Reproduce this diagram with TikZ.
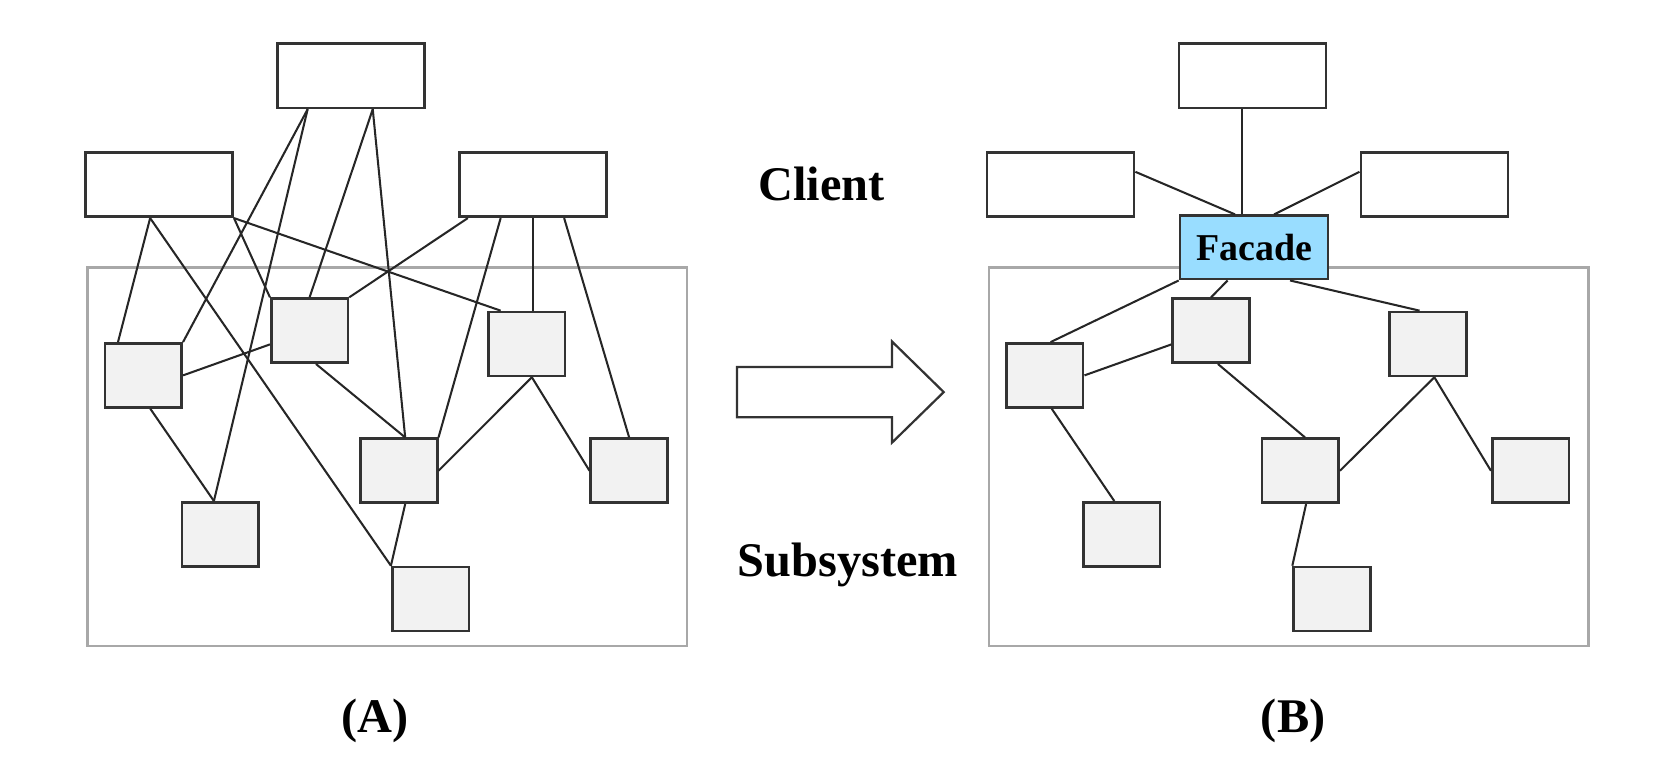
\documentclass[tikz,border=0pt]{standalone}
\usepackage{fontspec}
\setmainfont{Liberation Serif}
\definecolor{facadeblue}{RGB}{153,221,255}
\definecolor{partgray}{RGB}{242,242,242}
\definecolor{framegray}{RGB}{168,168,168}
\begin{document}
\begin{tikzpicture}[x=0.01cm,y=-0.01cm,
    client/.style={draw=black!80,line width=0.7pt,fill=white,minimum width=1.39cm,minimum height=0.61cm,inner sep=0pt},
    part/.style={draw=black!80,line width=0.7pt,fill=partgray,minimum width=0.725cm,minimum height=0.605cm,inner sep=0pt},
    wire/.style={draw=black!85,line width=0.55pt},
    title/.style={font=\bfseries\fontsize{13}{15}\selectfont}]
    \useasboundingbox (0,0) rectangle (1568,736);
    % both panels: subsystem frame, clients, parts
    \foreach \p/\dx in {a/0,b/852.5}{
      \begin{scope}[xshift=\dx*0.01cm]
        \draw[framegray,line width=0.6pt] (82.8,253) rectangle (649.8,611);
        \node[client] (\p T) at (332,71.5) {};
        \node[client] (\p L) at (150.5,174.5) {};
        \node[client] (\p R) at (504,174.5) {};
        \foreach \n/\x/\y in {1/135.6/355,2/292.8/312.7,3/498/325.3,4/377.2/445.2,
                              5/595/445.2,6/208.3/505.3,7/407.2/566.5}
          \node[part] (\p\n) at (\x,\y) {};
      \end{scope}
    }
    \node[client,fill=facadeblue,minimum width=1.40cm,minimum height=0.60cm,
          font=\bfseries\fontsize{10.2}{12}\selectfont] (bF) at (1186,234) {Facade};

    % (A) everything wired to everything
    \draw[wire] ([xshift=-0.41cm]aT.south) -- (a1.north east);
    \draw[wire] ([xshift=-0.41cm]aT.south) -- ([xshift=-0.06cm]a6.north);
    \draw[wire] ([xshift=0.205cm]aT.south) -- (a2.north);
    \draw[wire] ([xshift=0.205cm]aT.south) -- ([xshift=0.06cm]a4.north);
    \draw[wire] ([xshift=-0.085cm]aL.south) -- ([xshift=-0.24cm]a1.north);
    \draw[wire] ([xshift=-0.085cm]aL.south) -- (a7.north west);
    \draw[wire] (aL.south east) -- ([xshift=-0.245cm]a3.north);
    \draw[wire] (aL.south east) -- (a2.north west);
    \draw[wire] ([xshift=-0.615cm]aR.south) -- (a2.north east);
    \draw[wire] ([xshift=-0.305cm]aR.south) -- (a4.north east);
    \draw[wire] (aR.south) -- (aR.south |- a3.north);
    \draw[wire] ([xshift=0.295cm]aR.south) -- (a5.north);
    \draw[wire] ([xshift=0.065cm]a1.south) -- ([xshift=-0.06cm]a6.north);
    \draw[wire] (a1.east) -- ([yshift=-0.13cm]a2.west);
    \draw[wire] ([xshift=0.06cm]a2.south) -- ([xshift=0.06cm]a4.north);
    \draw[wire] ([xshift=0.05cm]a3.south) -- (a4.east);
    \draw[wire] ([xshift=0.05cm]a3.south) -- (a5.west);
    \draw[wire] ([xshift=0.06cm]a4.south) -- (a7.north west);

    % (B) clients only see the facade
    \draw[wire] ([xshift=-0.095cm]bT.south) -- ([xshift=-0.095cm]bT.south |- bF.north);
    \draw[wire] ([yshift=0.12cm]bL.east) -- ([xshift=-0.18cm]bF.north);
    \draw[wire] ([yshift=0.12cm]bR.west) -- ([xshift=0.19cm]bF.north);
    \draw[wire] (bF.south west) -- ([xshift=0.055cm]b1.north);
    \draw[wire] ([xshift=-0.25cm]bF.south) -- (b2.north);
    \draw[wire] ([xshift=0.34cm]bF.south) -- ([xshift=-0.08cm]b3.north);
    \draw[wire] (b1.east) -- ([yshift=-0.13cm]b2.west);
    \draw[wire] ([xshift=0.065cm]b1.south) -- ([xshift=-0.07cm]b6.north);
    \draw[wire] ([xshift=0.065cm]b2.south) -- ([xshift=0.045cm]b4.north);
    \draw[wire] ([xshift=0.06cm]b3.south) -- (b4.east);
    \draw[wire] ([xshift=0.06cm]b3.south) -- (b5.west);
    \draw[wire] ([xshift=0.055cm]b4.south) -- (b7.north west);

    % block arrow
    \draw[black!80,line width=0.6pt,fill=white] (697,347) -- (843.6,347) -- (843.6,323)
        -- (892.5,370.8) -- (843.6,418.6) -- (843.6,394.6) -- (697,394.6) -- cycle;

    \node[title,anchor=base] (client) at (777,189.5) {Client};
    \node[title,anchor=base] (subsys) at (802,545.5) {Subsystem};
    \node[title,anchor=base] (capA) at (354.3,693) {(A)};
    \node[title,anchor=base] (capB) at (1223,693) {(B)};
\end{tikzpicture}
\end{document}
